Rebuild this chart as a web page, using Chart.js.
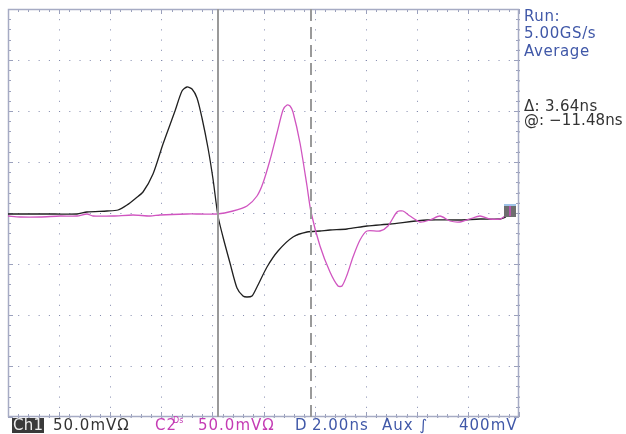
<!DOCTYPE html>
<html lang="en">
<head>
  <meta charset="UTF-8" />
  <title>Scope capture – Ch1 / C2</title>
  <script src="https://cdn.jsdelivr.net/npm/chart.js"></script>
  <style>
    body {
      margin: 0;
      background: #fff;
      font-family: "DejaVu Sans", sans-serif;
    }
    #wrap {
      position: relative;
      width: 626px;
      height: 434px;
      overflow: hidden;
    }
    canvas { position: absolute; left: 0; top: 0; }
    .t {
      position: absolute;
      font-size: 15px;
      line-height: 15px;
      white-space: nowrap;
      letter-spacing: 0.6px;
    }
    .bot { letter-spacing: 1px; }
    .blue { color: #4058a8; }
    .dark { color: #333; }
    .mag { color: #c43cb4; }
    .box {
      background: #3a3a3a;
      color: #eee;
      padding: 0 1px;
      letter-spacing: 0.3px;
    }
    .sup { position: absolute; left: 18px; top: -1px; font-size: 8px; line-height: 8px; letter-spacing: 0; }
  </style>
</head>
<body>
<div id="wrap">
  <canvas id="scope" width="626" height="434"></canvas>

  <div class="t blue" style="left:524px; top:9px;">Run:</div>
  <div class="t blue" style="left:524px; top:26px;">5.00GS/s</div>
  <div class="t blue" style="left:524px; top:44px;">Average</div>
  <div class="t dark" style="left:524px; top:99px; letter-spacing:0.3px;">Δ: 3.64ns</div>
  <div class="t dark" style="left:524px; top:113px; letter-spacing:0.1px;">@: −11.48ns</div>

  <div class="t box" style="left:12px; top:418px;">Ch1</div>
  <div class="t bot dark" style="left:53px; top:418px;">50.0mVΩ</div>
  <div class="t bot mag" style="left:155px; top:418px;">C2<span class="sup">Ds</span></div>
  <div class="t bot mag" style="left:198px; top:418px;">50.0mVΩ</div>
  <div class="t bot blue" style="left:295px; top:418px;">D</div>
  <div class="t bot blue" style="left:312px; top:418px;">2.00ns</div>
  <div class="t bot blue" style="left:382px; top:418px;">Aux ∫</div>
  <div class="t bot blue" style="left:459px; top:418px;">400mV</div>
</div>

<script>
  // time in ns (2 ns/div, 10 div), amplitude in mV (50 mV/div, 8 div)
  const ch1Time = [-10.0, -9.14, -8.16, -7.30, -6.91, -6.13, -5.69, -5.34, -5.0, -4.72, -4.32, -3.93, -3.46, -3.19, -2.99, -2.80, -2.60, -2.41, -2.17, -1.98, -1.78, -1.59, -1.31, -1.04, -0.80, -0.65, -0.45, -0.26, 0.14, 0.57, 1.15, 1.70, 2.21, 2.60, 3.27, 4.05, 4.95, 6.40, 7.69, 8.47, 9.26, 9.49];
  const ch1Volt = [-0.5, -1.0, -0.5, -0.5, 0.5, 1.5, 3.4, 8.3, 14.5, 20.1, 38.7, 68.1, 100.4, 120.0, 124.0, 122.0, 113.2, 93.6, 64.2, 33.8, -2.5, -24.0, -49.5, -74.0, -80.9, -82.8, -80.9, -73.0, -53.4, -36.8, -24.0, -19.1, -17.2, -16.2, -15.2, -12.3, -10.3, -6.4, -6.4, -5.4, -5.4, -4.4];

  const ch2Time = [-10.0, -9.53, -8.75, -7.96, -7.30, -6.91, -6.67, -5.89, -5.11, -4.44, -4.05, -2.99, -2.49, -1.82, -1.19, -0.65, -0.25, -0.02, 0.25, 0.53, 0.76, 0.92, 1.04, 1.15, 1.43, 1.70, 1.86, 2.21, 2.60, 2.92, 3.07, 3.27, 3.50, 3.78, 4.05, 4.56, 4.87, 5.23, 5.46, 5.73, 6.13, 6.52, 6.91, 7.30, 7.69, 8.08, 8.47, 8.87, 9.26, 9.45];
  const ch2Volt = [-2.5, -4.4, -4.4, -3.4, -2.5, -0.5, -2.5, -2.5, -1.5, -3.4, -1.5, -0.5, -0.5, -0.5, 1.5, 6.4, 16.2, 29.9, 52.4, 78.9, 101.4, 106.3, 105.3, 99.5, 69.1, 26.0, 0.5, -32.8, -58.3, -72.0, -72.0, -60.3, -43.6, -26.0, -17.2, -18.1, -12.3, 0.5, 1.5, -3.4, -9.3, -6.4, -3.4, -7.4, -9.3, -5.4, -3.4, -5.4, -5.4, -3.4];

  const cursorA = -1.78;
  const cursorB = 1.86;
  const triggerLevel = 2.5;

  const xMin = -10, xMax = 10, yMin = -200, yMax = 200;

  const toXY = (ts, vs) => ts.map((t, i) => ({x: t, y: vs[i]}));

  // oscilloscope frame, edge ticks and trigger marker
  const scopeDeco = {
    id: 'scopeDeco',
    beforeDatasetsDraw(chart) {
      const {ctx, chartArea: a, scales: {x, y}} = chart;
      ctx.save();
      ctx.strokeStyle = '#9aa0bc';
      ctx.lineWidth = 1;
      ctx.beginPath();
      for (let i = 0; i <= 50; i++) {
        const px = Math.round(x.getPixelForValue(xMin + i * 0.4)) + 0.5;
        const len = i % 5 === 0 ? 5 : 3;
        ctx.moveTo(px, a.top); ctx.lineTo(px, a.top + len);
        ctx.moveTo(px, a.bottom); ctx.lineTo(px, a.bottom - len);
      }
      for (let i = 0; i <= 40; i++) {
        const py = Math.round(y.getPixelForValue(yMin + i * 10)) + 0.5;
        const len = i % 5 === 0 ? 5 : 3;
        ctx.moveTo(a.left, py); ctx.lineTo(a.left + len, py);
        ctx.moveTo(a.right, py); ctx.lineTo(a.right - len, py);
      }
      ctx.stroke();
      ctx.strokeStyle = '#a6abc4';
      ctx.lineWidth = 1.5;
      ctx.strokeRect(a.left + 0.5, a.top + 0.5, a.right - a.left - 1, a.bottom - a.top - 1);
      ctx.restore();
    },
    afterDatasetsDraw(chart) {
      const {ctx, chartArea: a, scales: {y}} = chart;
      const py = Math.round(y.getPixelForValue(triggerLevel));
      ctx.save();
      ctx.fillStyle = '#6e6e6e';
      ctx.fillRect(a.right - 15, py - 6, 12, 13);
      ctx.fillStyle = '#9fc3e8';
      ctx.fillRect(a.right - 15, py - 6, 12, 2);
      ctx.strokeStyle = '#d04cc0';
      ctx.lineWidth = 1.5;
      ctx.beginPath();
      ctx.moveTo(a.right - 9, py - 4); ctx.lineTo(a.right - 9, py + 6);
      ctx.stroke();
      ctx.restore();
    }
  };

  new Chart(document.getElementById('scope'), {
    type: 'line',
    data: {
      datasets: [
        {
          data: [{x: cursorA, y: yMin}, {x: cursorA, y: yMax}],
          borderColor: '#9a9a9a', borderWidth: 2, pointRadius: 0
        },
        {
          data: [{x: cursorB, y: yMin}, {x: cursorB, y: yMax}],
          borderColor: '#9a9a9a', borderWidth: 2, borderDash: [12, 6], pointRadius: 0
        },
        {
          data: toXY(ch2Time, ch2Volt),
          borderColor: '#d055c0', borderWidth: 1.3, pointRadius: 0, tension: 0.25
        },
        {
          data: toXY(ch1Time, ch1Volt),
          borderColor: '#202020', borderWidth: 1.3, pointRadius: 0, tension: 0.25
        }
      ]
    },
    options: {
      responsive: false,
      animation: false,
      layout: { padding: {left: 8, top: 9, right: 107, bottom: 17} },
      plugins: { legend: {display: false}, tooltip: {enabled: false} },
      scales: {
        x: {
          type: 'linear', min: xMin, max: xMax, alignToPixels: true,
          ticks: {display: false, stepSize: 2},
          grid: {color: '#8088ac', lineWidth: 1, drawTicks: false},
          border: {display: false, dash: [1, 9.2]}
        },
        y: {
          type: 'linear', min: yMin, max: yMax, alignToPixels: true,
          ticks: {display: false, stepSize: 50},
          grid: {color: '#8088ac', lineWidth: 1, drawTicks: false},
          border: {display: false, dash: [1, 9.22]}
        }
      }
    },
    plugins: [scopeDeco]
  });
</script>
</body>
</html>
